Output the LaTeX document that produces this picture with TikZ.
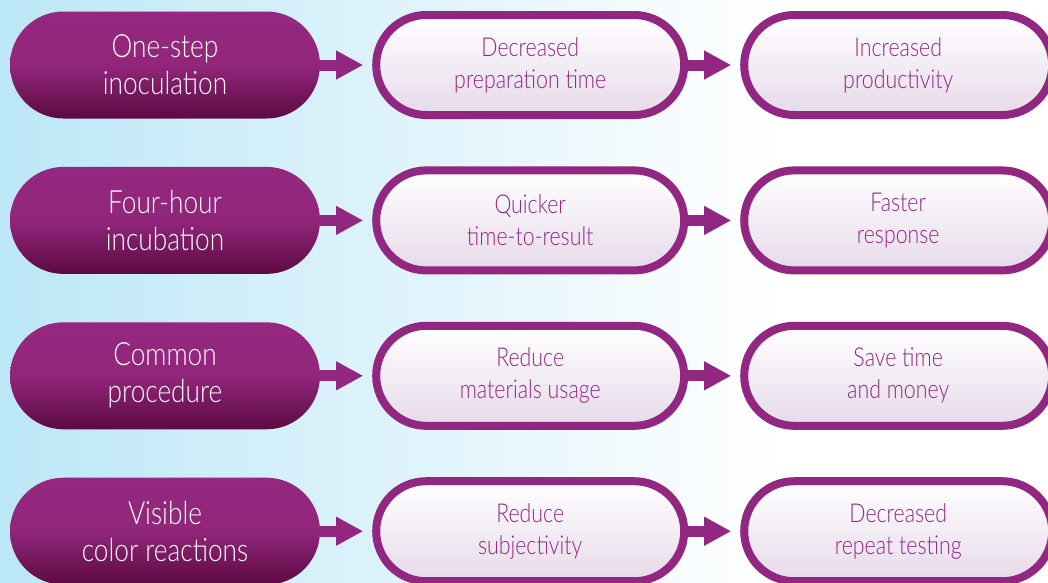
\documentclass[tikz,border=0pt]{standalone}
\usepackage{fontspec}
\setmainfont{Lato Light}[FakeStretch=0.82]
\usetikzlibrary{positioning,arrows.meta}
\definecolor{plum}{RGB}{146,39,130}
\definecolor{plumtop}{RGB}{148,40,126}
\definecolor{plumdark}{RGB}{92,10,66}
\definecolor{skyblue}{RGB}{188,231,247}
\definecolor{lilac}{RGB}{230,218,234}
\pgfdeclareverticalshading{causefill}{100bp}{color(0bp)=(plumdark); color(25bp)=(plumdark);
  color(50bp)=(plumtop!94!plumdark); color(75bp)=(plumtop); color(100bp)=(plumtop)}
\begin{document}
\begin{tikzpicture}[x=1pt,y=1pt,
    cause/.style={rectangle,rounded corners=53.5pt,minimum width=310pt,minimum height=107pt,inner sep=0pt,
      shade,shading=causefill,text=white,align=center,
      font=\fontsize{32}{37}\selectfont},
    effect/.style={rectangle,rounded corners=50pt,draw=plum,line width=8pt,minimum width=308pt,minimum height=100pt,inner sep=0pt,
      top color=white,bottom color=lilac,text=plum,align=center,
      font=\fontsize{26}{32}\selectfont},
    link/.style={-{Triangle[length=27pt,width=27pt]},line width=11pt,draw=plum,shorten >=9pt},
    node distance=52pt]
  \useasboundingbox (0,0) rectangle (1048,-582);
  \clip (0,0) rectangle (1048,-582);
  \shade[left color=skyblue,right color=white] (0,0) rectangle (780,-582);
  \fill[white] (780,0) rectangle (1048,-582);

  \node[cause](s1) at (165,-65) {One-step\\inoculation};
  \node[effect](m1)[right=of s1] {Decreased\\preparation time};
  \node[effect](r1)[right=of m1] {Increased\\productivity};

  \node[cause](s2)[below=48pt of s1] {Four-hour\\incubation};
  \node[effect](m2)[right=of s2] {Quicker\\time-to-result};
  \node[effect](r2)[right=of m2] {Faster\\response};

  \node[cause](s3)[below=48pt of s2] {Common\\procedure};
  \node[effect](m3)[right=of s3] {Reduce\\materials usage};
  \node[effect](r3)[right=of m3] {Save time\\and money};

  \node[cause](s4)[below=48pt of s3] {Visible\\color reactions};
  \node[effect](m4)[right=of s4] {Reduce\\subjectivity};
  \node[effect](r4)[right=of m4] {Decreased\\repeat testing};

  \draw[link](s1) -- (m1);
  \draw[link](m1) -- (r1);
  \draw[link](s2) -- (m2);
  \draw[link](m2) -- (r2);
  \draw[link](s3) -- (m3);
  \draw[link](m3) -- (r3);
  \draw[link](s4) -- (m4);
  \draw[link](m4) -- (r4);
\end{tikzpicture}
\end{document}
